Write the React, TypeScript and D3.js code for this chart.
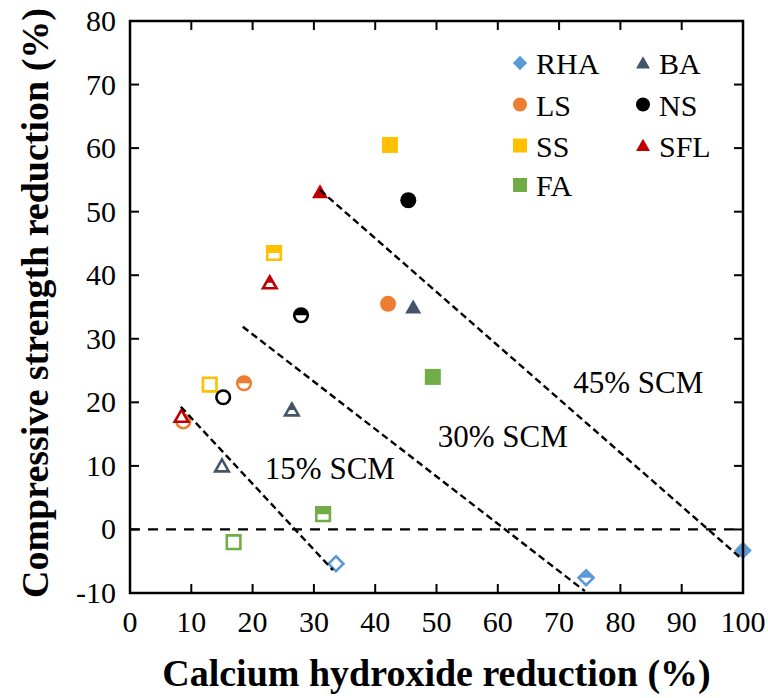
import React from "react";
import * as d3 from "d3";

type Level = "open" | "half" | "filled";
type Shape = "diamond" | "circle" | "square" | "triangle";

// marker fill level per SCM dosage: 15% open, 30% half, 45% filled
const LEVELS: Level[] = ["open", "half", "filled"];

const SERIES = ["RHA", "LS", "SS", "FA", "BA", "NS", "SFL"];
const COLORS: Record<string, string> = {
  RHA: "#5B9BD5",
  LS: "#ED7D31",
  SS: "#FFC000",
  FA: "#70AD47",
  BA: "#44546A",
  NS: "#000000",
  SFL: "#C00000",
};
const SHAPES: Record<string, Shape> = {
  RHA: "diamond",
  LS: "circle",
  SS: "square",
  FA: "square",
  BA: "triangle",
  NS: "circle",
  SFL: "triangle",
};

// CH reduction (x) and compressive strength reduction (y), at 15/30/45 % SCM
const xRHA = [33.6, 74.4, 100];
const yRHA = [-5.4, -7.6, -3.3];
const xLS = [8.7, 18.6, 42.1];
const yLS = [17.0, 23.0, 35.5];
const xSS = [13.0, 23.5, 42.4];
const ySS = [22.8, 43.5, 60.5];
const xFA = [16.9, 31.5, 49.4];
const yFA = [-2.0, 2.4, 24.0];
const xBA = [15.0, 26.4, 46.2];
const yBA = [10.0, 18.8, 35.0];
const xNS = [15.2, 27.9, 45.4];
const yNS = [20.8, 33.7, 51.8];
const xSFL = [8.4, 22.8, 31.0];
const ySFL = [17.8, 38.8, 53.1];

const X_BY: Record<string, number[]> = { RHA: xRHA, LS: xLS, SS: xSS, FA: xFA, BA: xBA, NS: xNS, SFL: xSFL };
const Y_BY: Record<string, number[]> = { RHA: yRHA, LS: yLS, SS: ySS, FA: yFA, BA: yBA, NS: yNS, SFL: ySFL };

// dashed iso-dosage lines
const SCM_LABELS = ["15% SCM", "30% SCM", "45% SCM"];
const SCM_LINE_X = [[8.3, 33.1], [18.4, 74.2], [31.0, 100]];
const SCM_LINE_Y = [[19.3, -6.4], [31.9, -9.7], [53.4, -4.8]];
const SCM_LABEL_X = [22.0, 50.2, 72.3];
const SCM_LABEL_Y = [7.9, 13.0, 21.5];

const X_TICKS = d3.range(0, 101, 10);
const Y_TICKS = d3.range(-10, 81, 10);

const W = 768;
const H = 698;
const FONT = "Liberation Serif, Times New Roman, Tinos, serif";

function shapePath(shape: Shape, s: number): string {
  if (shape === "diamond") return `M0,${-s * 1.1}L${s * 1.1},0L0,${s * 1.1}L${-s * 1.1},0Z`;
  if (shape === "square") return `M${-s},${-s}H${s}V${s}H${-s}Z`;
  if (shape === "triangle") return `M0,${-s * 0.95}L${s},${s * 0.8}L${-s},${s * 0.8}Z`;
  return d3.arc()({ innerRadius: 0, outerRadius: s, startAngle: 0, endAngle: Math.PI * 2 }) as string;
}

function Marker({ cx, cy, name, level, id }: { cx: number; cy: number; name: string; level: Level; id: string }) {
  const color = COLORS[name];
  const shape = SHAPES[name];
  if (level === "filled") {
    return <path transform={`translate(${cx},${cy})`} d={shapePath(shape, 8)} fill={color} />;
  }
  const d = shapePath(shape, 6.8);
  return (
    <g transform={`translate(${cx},${cy})`}>
      {level === "half" && (
        <clipPath id={id}>
          <rect x={-12} y={-12} width={24} height={12} />
        </clipPath>
      )}
      <path d={d} fill="#fff" stroke={color} strokeWidth={2.6} />
      {level === "half" && <path d={d} fill={color} clipPath={`url(#${id})`} />}
    </g>
  );
}

export default function App() {
  const x = d3.scaleLinear().domain([0, 100]).range([130, 743]);
  const y = d3.scaleLinear().domain([-10, 80]).range([593, 21]);
  const [x0, x1] = x.range();
  const [y0, y1] = y.range();

  const legendRows = [63, 104.5, 145.5, 185];

  return (
    <div style={{ position: "fixed", left: 0, top: 0, background: "#fff" }}>
      <svg width={W} height={H} style={{ fontFamily: FONT, display: "block" }}>
        <rect width={W} height={H} fill="#fff" />

        {/* zero reference */}
        <line x1={x0} x2={x1} y1={y(0)} y2={y(0)} stroke="#000" strokeWidth={2.2} strokeDasharray="10,8" />

        {/* points */}
        {SERIES.map((name) =>
          LEVELS.map((lev, i) => (
            <Marker
              key={name + i}
              id={`clip-${name}-${i}`}
              cx={x(X_BY[name][i])}
              cy={y(Y_BY[name][i])}
              name={name}
              level={lev}
            />
          ))
        )}

        {/* SCM lines */}
        {SCM_LABELS.map((lab, i) => (
          <g key={lab}>
            <line
              x1={x(SCM_LINE_X[i][0])}
              y1={y(SCM_LINE_Y[i][0])}
              x2={x(SCM_LINE_X[i][1])}
              y2={y(SCM_LINE_Y[i][1])}
              stroke="#000"
              strokeWidth={2.4}
              strokeDasharray="7,4"
            />
            <text x={x(SCM_LABEL_X[i])} y={y(SCM_LABEL_Y[i])} fontSize={31}>
              {lab}
            </text>
          </g>
        ))}

        {/* frame + ticks */}
        <rect x={x0} y={y1} width={x1 - x0} height={y0 - y1} fill="none" stroke="#000" strokeWidth={2.5} />
        {X_TICKS.map((t) => (
          <g key={"xt" + t}>
            <line x1={x(t)} x2={x(t)} y1={y0} y2={y0 - 9} stroke="#000" strokeWidth={2} />
            <line x1={x(t)} x2={x(t)} y1={y1} y2={y1 + 9} stroke="#000" strokeWidth={2} />
            <text x={x(t)} y={632} textAnchor="middle" fontSize={30}>
              {t}
            </text>
          </g>
        ))}
        {Y_TICKS.map((t) => (
          <g key={"yt" + t}>
            <line x1={x0} x2={x0 + 9} y1={y(t)} y2={y(t)} stroke="#000" strokeWidth={2} />
            <line x1={x1} x2={x1 - 9} y1={y(t)} y2={y(t)} stroke="#000" strokeWidth={2} />
            <text x={116} y={y(t) + 10} textAnchor="end" fontSize={30}>
              {t}
            </text>
          </g>
        ))}

        {/* axis titles */}
        <text x={(x0 + x1) / 2} y={686} textAnchor="middle" fontSize={38} fontWeight="bold">
          Calcium hydroxide reduction (%)
        </text>
        <text
          transform={`translate(48,${(y0 + y1) / 2 - 4}) rotate(-90)`}
          textAnchor="middle"
          fontSize={38}
          fontWeight="bold"
        >
          Compressive strength reduction (%)
        </text>

        {/* legend */}
        {SERIES.map((name, i) => {
          const col = i < 4 ? 0 : 1;
          const row = i < 4 ? i : i - 4;
          const mx = col === 0 ? 520 : 643;
          const my = legendRows[row];
          const s = SHAPES[name];
          return (
            <g key={"lg" + name}>
              <path transform={`translate(${mx},${my})`} d={shapePath(s, s === "diamond" ? 6.5 : 7)} fill={COLORS[name]} />
              <text x={mx + 16} y={my + 11} fontSize={30}>
                {name}
              </text>
            </g>
          );
        })}
      </svg>
    </div>
  );
}
